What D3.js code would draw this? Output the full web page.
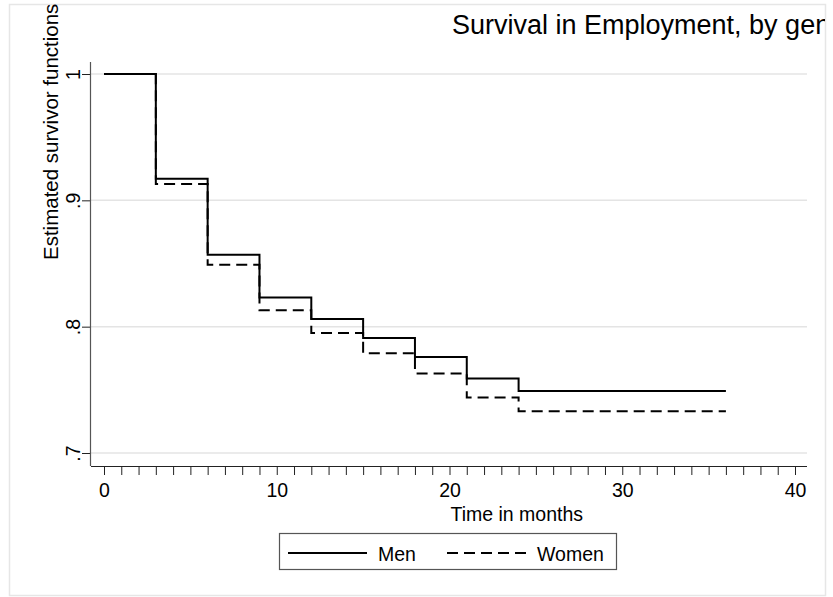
<!DOCTYPE html>
<html>
<head>
<meta charset="utf-8">
<script src="https://cdn.jsdelivr.net/npm/d3@7"></script>
<style>
    body { margin: 0; background: #fff; }
    svg { display: block; font-family: "Liberation Sans", Arial, sans-serif; }
</style>
</head>
<body>
<svg id="chart" width="833" height="597"></svg>
<script>
// data
const months = [0, 3, 6, 9, 12, 15, 18, 21, 24, 36];
const men = [1.0, 0.917, 0.857, 0.823, 0.806, 0.791, 0.776, 0.759, 0.749, 0.749];
const women = [1.0, 0.913, 0.849, 0.813, 0.795, 0.779, 0.763, 0.744, 0.733, 0.733];
const xTicks = [0, 10, 20, 30, 40];
const yTicks = [0.7, 0.8, 0.9, 1];
const yTickLabels = [".7", ".8", ".9", "1"];
const seriesNames = ["Men", "Women"];

class SurvivalVis {

    constructor(_config) {
        this.config = {
            parentElement: _config.parentElement,
            containerWidth: _config.containerWidth || 833,
            containerHeight: _config.containerHeight || 597,
        }
        this.svg = d3.select(this.config.parentElement);
        this.initVis();
    }

    initVis() {
        let vis = this;

        // outer frame, light grey like stata
        vis.svg.append("rect")
            .attr("x", 9.5).attr("y", 4.5)
            .attr("width", 816).attr("height", 591)
            .attr("fill", "#fff")
            .attr("stroke", "#e6e6e6")
            .attr("stroke-width", 1.5);

        vis.x = d3.scaleLinear().domain([0, 40]).range([104, 795]);
        vis.y = d3.scaleLinear().domain([0.7, 1]).range([453, 74]);

        vis.plot = vis.svg.append("g");
        vis.render();
    }

    render() {
        let vis = this;

        // grid
        vis.plot.append("g").selectAll("line").data(yTicks).join("line")
            .attr("x1", 90).attr("x2", 807)
            .attr("y1", d => vis.y(d)).attr("y2", d => vis.y(d))
            .attr("stroke", "#e4e4e4")
            .attr("stroke-width", 1.5);

        // y axis
        let yAxis = d3.axisLeft(vis.y).tickValues(yTicks).tickSize(8).tickSizeOuter(0)
            .tickFormat((d, i) => yTickLabels[i]);
        let gy = vis.plot.append("g").attr("transform", "translate(90,0)").call(yAxis);
        gy.select(".domain").remove();
        gy.selectAll(".tick line").attr("stroke", "#222");
        gy.selectAll(".tick text")
            .attr("x", 0).attr("y", 0).attr("dy", 0)
            .attr("transform", "translate(-10,0) rotate(-90)")
            .attr("text-anchor", "middle")
            .attr("font-size", 19.5)
            .attr("font-family", null)
            .attr("fill", "#000");
        vis.plot.append("line")
            .attr("x1", 90.5).attr("x2", 90.5).attr("y1", 62).attr("y2", 466)
            .attr("stroke", "#555").attr("stroke-width", 1.2);

        // x axis, ticks every month
        let xAxis = d3.axisBottom(vis.x).tickValues(d3.range(0, 41)).tickSize(9).tickSizeOuter(0)
            .tickFormat(d => xTicks.includes(d) ? d : "");
        let gx = vis.plot.append("g").attr("transform", "translate(0,466)").call(xAxis);
        gx.select(".domain").remove();
        gx.selectAll(".tick line").attr("stroke", "#222");
        gx.selectAll(".tick text")
            .attr("y", 31).attr("dy", 0)
            .attr("font-size", 19.5)
            .attr("font-family", null)
            .attr("fill", "#000");
        vis.plot.append("line")
            .attr("x1", 91).attr("x2", 807).attr("y1", 466.5).attr("y2", 466.5)
            .attr("stroke", "#222").attr("stroke-width", 1.2);

        // survivor curves
        let line = d3.line().curve(d3.curveStepAfter)
            .x(d => vis.x(d[0])).y(d => vis.y(d[1]));
        let series = [men, women].map(vals => months.map((m, i) => [m, vals[i]]));
        let dashes = [null, "11,6"];

        vis.plot.append("g").selectAll("path").data(series).join("path")
            .attr("d", line)
            .attr("fill", "none")
            .attr("stroke", "#000")
            .attr("stroke-width", 2)
            .attr("stroke-dasharray", (d, i) => dashes[i]);

        // texts
        vis.svg.append("clipPath").attr("id", "frameclip")
            .append("rect").attr("x", 0).attr("y", 0).attr("width", 825).attr("height", 597);
        vis.svg.append("text")
            .attr("clip-path", "url(#frameclip)")
            .attr("x", 452).attr("y", 34)
            .attr("font-size", 27)
            .text("Survival in Employment, by gender");

        vis.svg.append("text")
            .attr("transform", "translate(58,260) rotate(-90)")
            .attr("font-size", 20.5)
            .text("Estimated survivor functions");

        vis.svg.append("text")
            .attr("x", vis.x(20)).attr("y", 521)
            .attr("dx", 1)
            .attr("font-size", 19.5)
            .text("Time in months");

        // legend
        let legend = vis.svg.append("g");
        legend.append("rect")
            .attr("x", 279.5).attr("y", 533.5).attr("width", 337).attr("height", 36)
            .attr("fill", "#fff").attr("stroke", "#555").attr("stroke-width", 1.2);
        let items = legend.selectAll("g").data(seriesNames).join("g")
            .attr("transform", (d, i) => `translate(${i === 0 ? 288 : 447},553)`);
        items.append("line")
            .attr("x1", 0).attr("x2", 79)
            .attr("stroke", "#000").attr("stroke-width", 2)
            .attr("stroke-dasharray", (d, i) => dashes[i]);
        items.append("text")
            .attr("x", 90).attr("y", 8)
            .attr("font-size", 19.5)
            .text(d => d);
    }
}

new SurvivalVis({ parentElement: "#chart" });
</script>
</body>
</html>
